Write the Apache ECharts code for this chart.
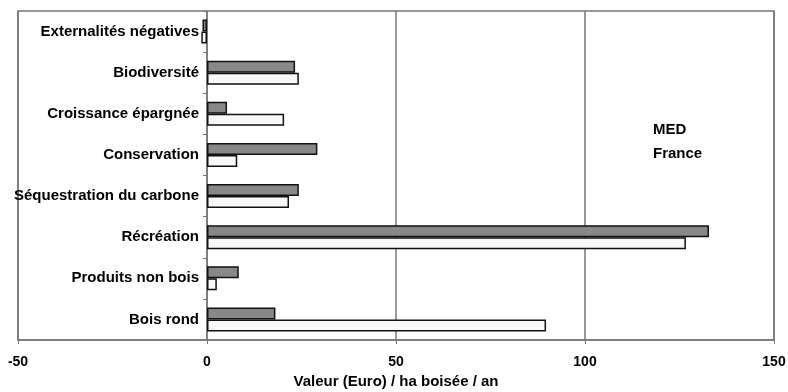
<!DOCTYPE html>
<html>
<head>
<meta charset="utf-8">
<script src="https://cdn.jsdelivr.net/npm/echarts@6/dist/echarts.min.js"></script>
<style>
  html, body { margin: 0; padding: 0; background: #fff; }
  #chart { width: 788px; height: 392px; }
</style>
</head>
<body>
<div id="chart"></div>
<script>
const categories = [
  'Externalités négatives',
  'Biodiversité',
  'Croissance épargnée',
  'Conservation',
  'Séquestration du carbone',
  'Récréation',
  'Produits non bois',
  'Bois rond'
];
const medValues = [-1.2, 23.3, 5.3, 29.2, 24.3, 132.8, 8.4, 18.1];
const franceValues = [-1.5, 24.3, 20.4, 8.0, 21.7, 126.7, 2.6, 89.7];
const seriesNames = ['MED', 'France'];
const xTicks = { min: -50, max: 150, interval: 50 };

const font = 'Liberation Sans, Arial, sans-serif';
const myChart = echarts.init(document.getElementById('chart'));

// the category axis sits on x = 0: (0 - min) / (max - min) of the plot width
const plotLeft = 18, plotRight = 14;
const zeroOffset = (788 - plotLeft - plotRight) * (0 - xTicks.min) / (xTicks.max - xTicks.min);

const option = {
  animation: false,
  backgroundColor: '#fff',
  grid: {
    left: plotLeft,
    right: plotRight,
    top: 11,
    bottom: 52,
    containLabel: false,
    outerBoundsMode: 'none',
    show: true,
    borderColor: '#777',
    borderWidth: 1.5
  },
  xAxis: {
    type: 'value',
    min: xTicks.min,
    max: xTicks.max,
    interval: xTicks.interval,
    name: 'Valeur (Euro) / ha boisée / an',
    nameLocation: 'middle',
    nameGap: 34,
    nameTextStyle: { color: '#000', fontSize: 15, fontWeight: 'bold', fontFamily: font },
    axisLine: { show: true, lineStyle: { color: '#777', width: 1.5 } },
    axisTick: { show: true, length: 4, lineStyle: { color: '#777' } },
    axisLabel: { color: '#000', fontSize: 14, fontWeight: 'bold', fontFamily: font, margin: 15 },
    splitLine: { show: true, lineStyle: { color: '#777', width: 1.5 } }
  },
  yAxis: {
    type: 'category',
    data: categories,
    inverse: true,
    offset: -zeroOffset,
    axisLine: { show: true, onZero: false, lineStyle: { color: '#777', width: 1.5 } },
    axisTick: { show: true, length: 4, lineStyle: { color: '#777' } },
    axisLabel: {
      color: '#000', fontSize: 15, fontWeight: 'bold', fontFamily: font,
      margin: 8, padding: [6, 0, 0, 0]
    },
    splitLine: { show: false }
  },
  series: [
    {
      name: seriesNames[0],
      type: 'bar',
      data: medValues,
      barWidth: 12,
      barGap: '0%',
      itemStyle: { color: '#888888', borderColor: '#111', borderWidth: 1.5 }
    },
    {
      name: seriesNames[1],
      type: 'bar',
      data: franceValues,
      barWidth: 12,
      barGap: '0%',
      itemStyle: { color: '#f8f8f8', borderColor: '#111', borderWidth: 1.5 }
    }
  ],
  graphic: [
    {
      type: 'text', x: 653, y: 130,
      style: { text: seriesNames[0], fill: '#000', font: 'bold 15px ' + font, verticalAlign: 'middle' }
    },
    {
      type: 'text', x: 653, y: 154,
      style: { text: seriesNames[1], fill: '#000', font: 'bold 15px ' + font, verticalAlign: 'middle' }
    }
  ]
};

myChart.setOption(option);
</script>
</body>
</html>
